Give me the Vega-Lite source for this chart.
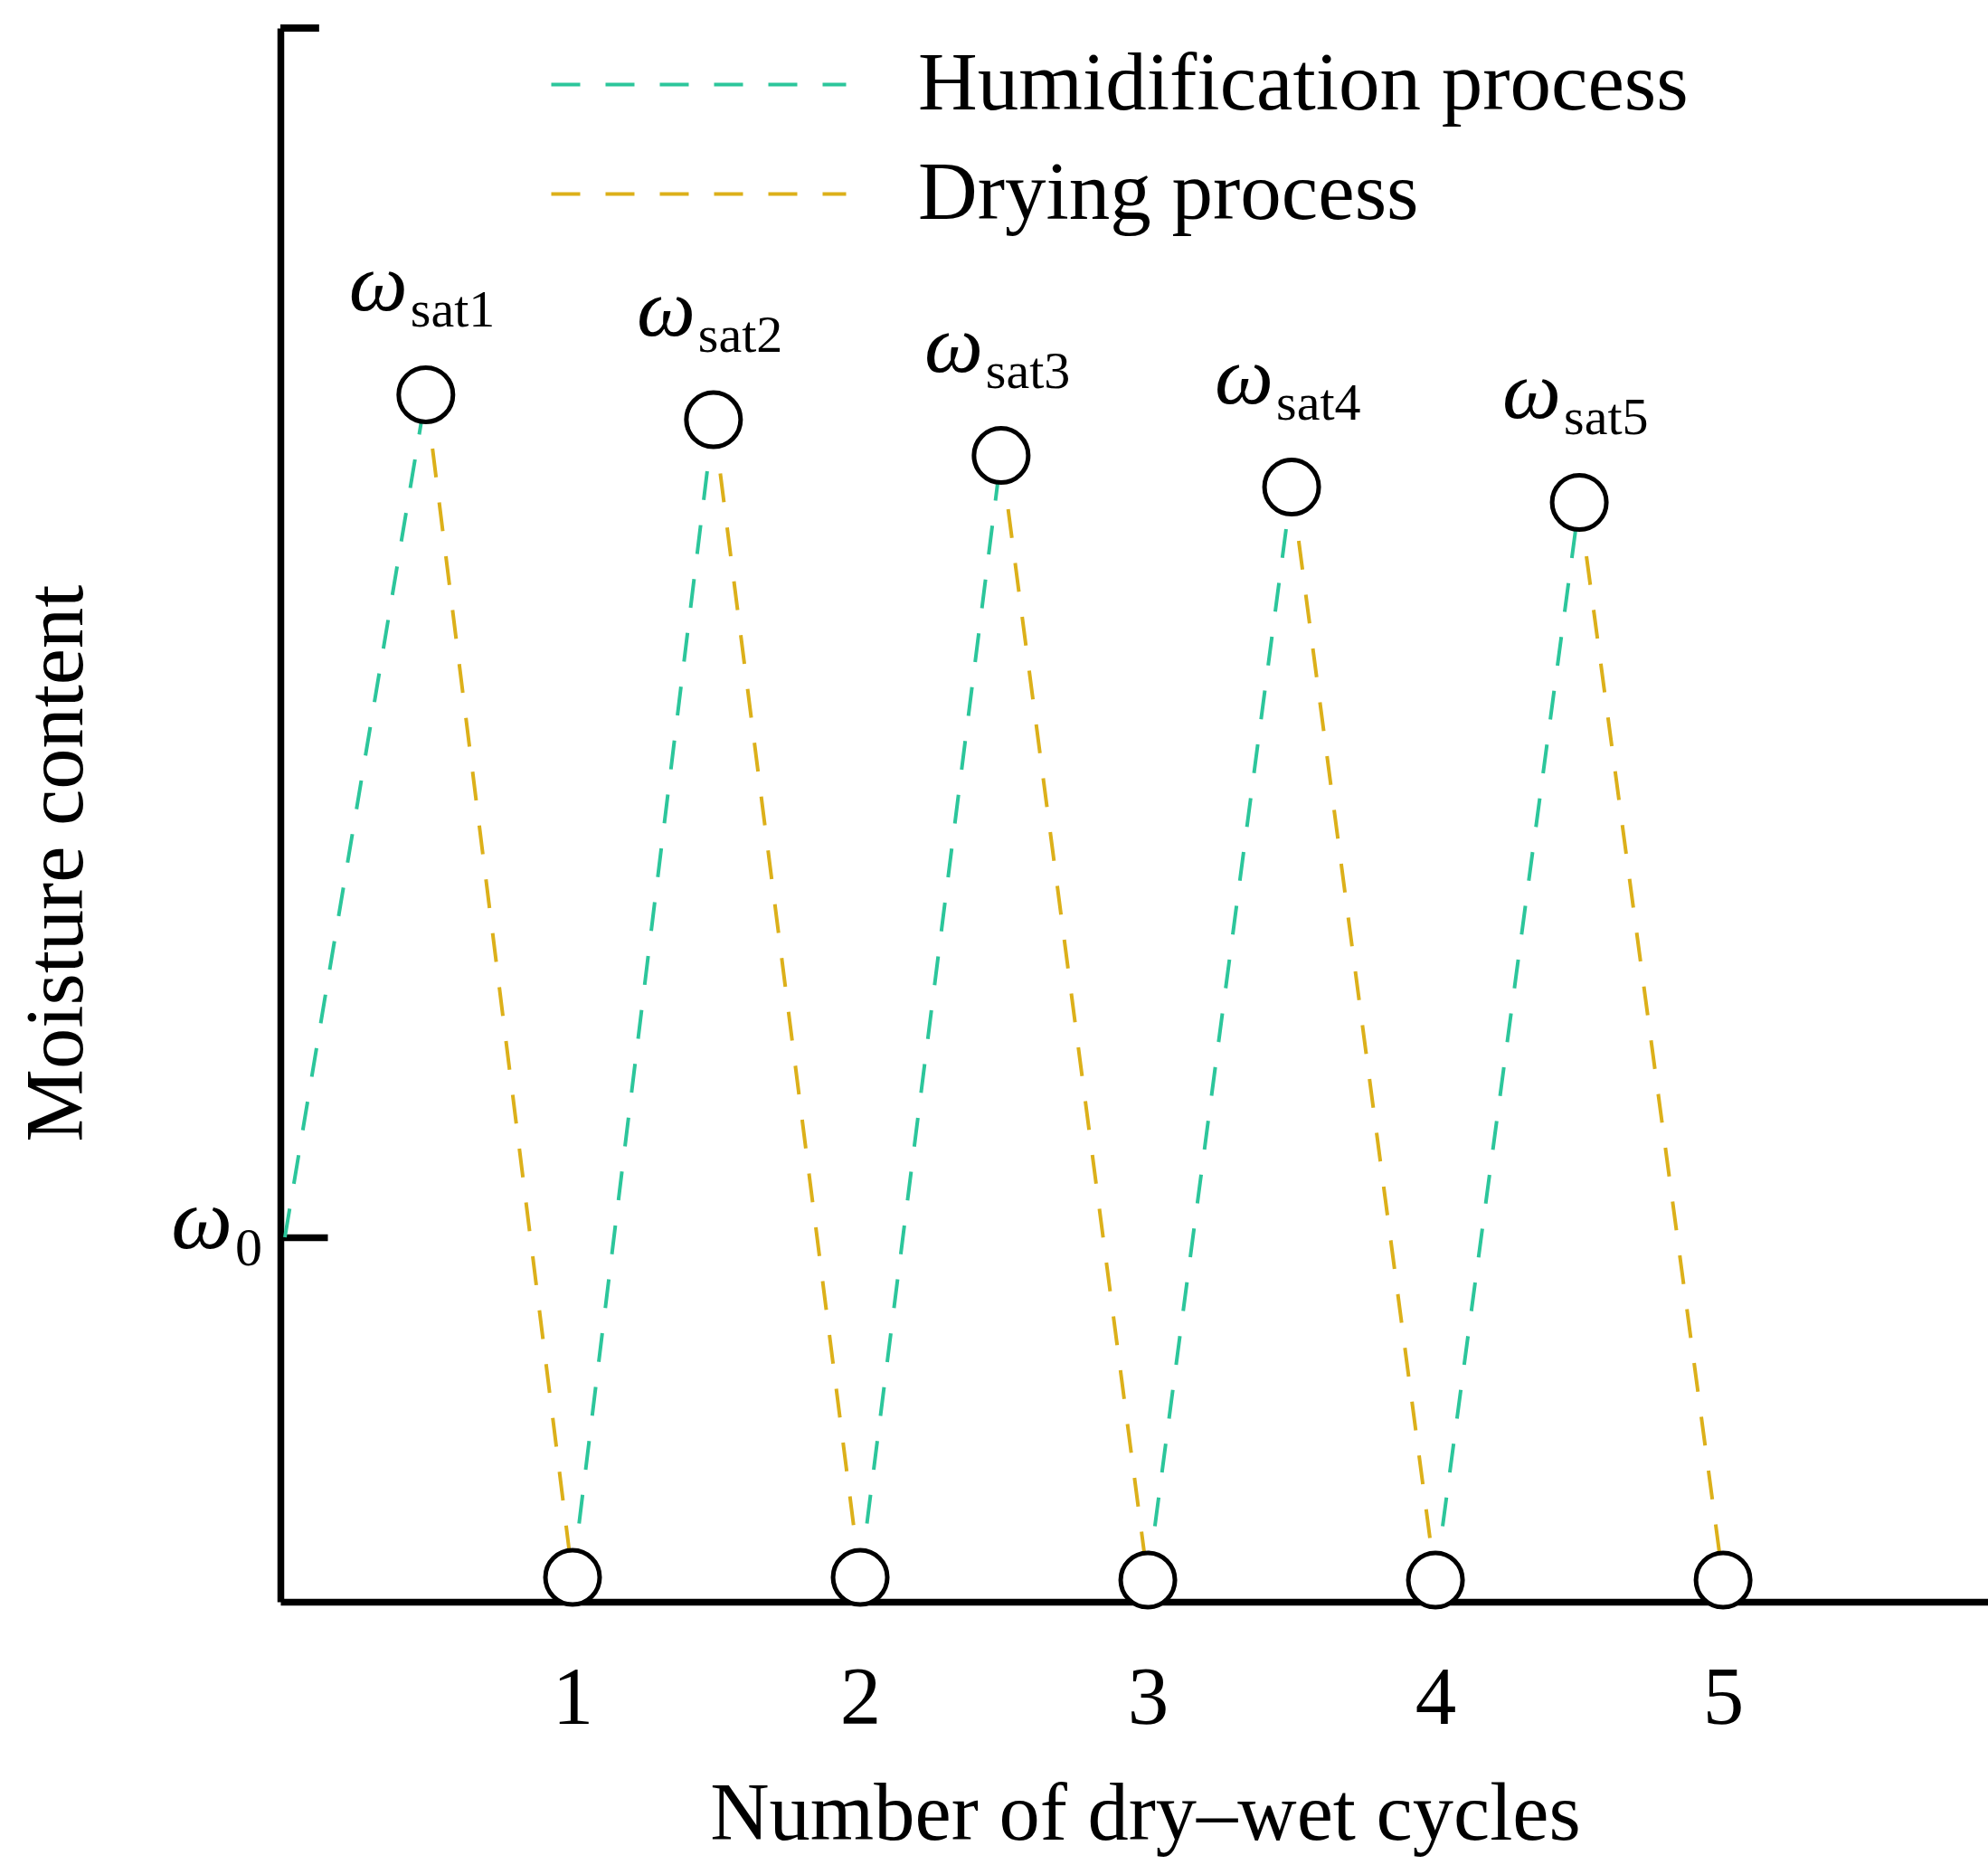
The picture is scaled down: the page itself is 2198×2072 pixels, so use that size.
{
  "$schema": "https://vega.github.io/schema/vega-lite/v6.json",
  "width": 1888,
  "height": 1740,
  "autosize": {"type": "none"},
  "padding": {"left": 310, "top": 31, "right": 0, "bottom": 301},
  "background": "white",
  "config": {"font": "Liberation Serif", "view": {"stroke": null}, "axis": {"grid": false}},
  "datasets": {
    "segments": [
      {"seg": 1, "process": "Humidification process", "cycle": 0, "moisture": 23.16},
      {"seg": 1, "process": "Humidification process", "cycle": 0.49, "moisture": 76.7},
      {"seg": 2, "process": "Drying process", "cycle": 0.49, "moisture": 76.7},
      {"seg": 2, "process": "Drying process", "cycle": 1, "moisture": 1.55},
      {"seg": 3, "process": "Humidification process", "cycle": 1, "moisture": 1.55},
      {"seg": 3, "process": "Humidification process", "cycle": 1.49, "moisture": 75.11},
      {"seg": 4, "process": "Drying process", "cycle": 1.49, "moisture": 75.11},
      {"seg": 4, "process": "Drying process", "cycle": 2, "moisture": 1.55},
      {"seg": 5, "process": "Humidification process", "cycle": 2, "moisture": 1.55},
      {"seg": 5, "process": "Humidification process", "cycle": 2.49, "moisture": 72.84},
      {"seg": 6, "process": "Drying process", "cycle": 2.49, "moisture": 72.84},
      {"seg": 6, "process": "Drying process", "cycle": 3, "moisture": 1.38},
      {"seg": 7, "process": "Humidification process", "cycle": 3, "moisture": 1.38},
      {"seg": 7, "process": "Humidification process", "cycle": 3.5, "moisture": 70.83},
      {"seg": 8, "process": "Drying process", "cycle": 3.5, "moisture": 70.83},
      {"seg": 8, "process": "Drying process", "cycle": 4, "moisture": 1.38},
      {"seg": 9, "process": "Humidification process", "cycle": 4, "moisture": 1.38},
      {"seg": 9, "process": "Humidification process", "cycle": 4.5, "moisture": 69.86},
      {"seg": 10, "process": "Drying process", "cycle": 4.5, "moisture": 69.86},
      {"seg": 10, "process": "Drying process", "cycle": 5, "moisture": 1.38}
    ],
    "points": [
      {"cycle": 0.49, "moisture": 76.7, "kind": "peak", "main": "ω", "sub": "sat1"},
      {"cycle": 1.49, "moisture": 75.11, "kind": "peak", "main": "ω", "sub": "sat2"},
      {"cycle": 2.49, "moisture": 72.84, "kind": "peak", "main": "ω", "sub": "sat3"},
      {"cycle": 3.5, "moisture": 70.83, "kind": "peak", "main": "ω", "sub": "sat4"},
      {"cycle": 4.5, "moisture": 69.86, "kind": "peak", "main": "ω", "sub": "sat5"},
      {"cycle": 1, "moisture": 1.55, "kind": "trough", "main": "", "sub": ""},
      {"cycle": 2, "moisture": 1.55, "kind": "trough", "main": "", "sub": ""},
      {"cycle": 3, "moisture": 1.38, "kind": "trough", "main": "", "sub": ""},
      {"cycle": 4, "moisture": 1.38, "kind": "trough", "main": "", "sub": ""},
      {"cycle": 5, "moisture": 1.38, "kind": "trough", "main": "", "sub": ""}
    ],
    "initial": [
      {"cycle": 0, "moisture": 23.16, "main": "ω", "sub": "0"}
    ],
    "cap": [
      {"cycle": -0.0157, "cycle2": 0.119, "moisture": 100}
    ]
  },
  "encoding": {
    "x": {
      "field": "cycle",
      "type": "quantitative",
      "scale": {"domain": [-0.0157, 5.921], "nice": false, "zero": false},
      "axis": {
        "values": [1, 2, 3, 4, 5],
        "format": "d",
        "title": "Number of dry–wet cycles",
        "ticks": false,
        "tickSize": 0,
        "labelFontSize": 91,
        "labelFont": "Liberation Serif",
        "labelColor": "black",
        "labelBaseline": "alphabetic",
        "labelPadding": 134,
        "labelFlush": false,
        "labelOverlap": false,
        "domainColor": "black",
        "domainWidth": 7.5,
        "titleFont": "Liberation Serif",
        "titleFontSize": 90.5,
        "titleFontWeight": "normal",
        "titleColor": "black",
        "titleX": 956,
        "titleY": 262,
        "titleBaseline": "alphabetic",
        "titleAlign": "center"
      }
    },
    "y": {
      "field": "moisture",
      "type": "quantitative",
      "scale": {"domain": [0, 100], "nice": false, "zero": false},
      "axis": {
        "values": [23.16],
        "labels": false,
        "tickSize": -52,
        "tickWidth": 7.5,
        "tickColor": "black",
        "domainColor": "black",
        "domainWidth": 7.5,
        "title": "Moisture content",
        "titleFont": "Liberation Serif",
        "titleFontSize": 90.5,
        "titleFontWeight": "normal",
        "titleColor": "black",
        "titleX": -220,
        "titleY": 923,
        "titleAngle": -90,
        "titleBaseline": "alphabetic",
        "titleAlign": "center"
      }
    }
  },
  "layer": [
    {
      "data": {"name": "segments"},
      "mark": {"type": "line", "strokeWidth": 4, "strokeDash": [32, 28]},
      "encoding": {
        "detail": {"field": "seg", "type": "nominal"},
        "color": {
          "field": "process",
          "type": "nominal",
          "scale": {"domain": ["Humidification process", "Drying process"], "range": ["#2cc69b", "#dcb01a"]},
          "legend": {
            "orient": "none",
            "legendX": 417,
            "legendY": 17,
            "title": null,
            "padding": 0,
            "symbolType": "M -7 0 L 7 0",
            "symbolSize": 2169,
            "symbolStrokeWidth": 4,
            "symbolDash": [32, 28],
            "symbolFillColor": "transparent",
            "labelFont": "Liberation Serif",
            "labelFontSize": 91,
            "labelColor": "black",
            "labelOffset": 197,
            "labelLimit": 2000,
            "rowPadding": 29
          }
        }
      }
    },
    {
      "data": {"name": "cap"},
      "mark": {"type": "rule", "strokeWidth": 8, "color": "black"},
      "encoding": {"x2": {"field": "cycle2"}}
    },
    {
      "data": {"name": "points"},
      "mark": {"type": "point", "shape": "circle", "filled": true, "fill": "white", "stroke": "black", "strokeWidth": 5, "size": 3600, "opacity": 1}
    },
    {
      "data": {"name": "points"},
      "transform": [{"filter": "datum.kind === 'peak'"}],
      "mark": {"type": "text", "fontSize": 92, "fontStyle": "italic", "font": "Liberation Serif", "align": "right", "baseline": "alphabetic", "dx": -20, "dy": -93, "color": "black"},
      "encoding": {"text": {"field": "main"}}
    },
    {
      "data": {"name": "points"},
      "transform": [{"filter": "datum.kind === 'peak'"}],
      "mark": {"type": "text", "fontSize": 58, "font": "Liberation Serif", "align": "left", "baseline": "alphabetic", "dx": -17, "dy": -75, "color": "black"},
      "encoding": {"text": {"field": "sub"}}
    },
    {
      "data": {"name": "initial"},
      "mark": {"type": "text", "fontSize": 96, "fontStyle": "italic", "font": "Liberation Serif", "align": "right", "baseline": "alphabetic", "dx": -58, "dy": 12, "color": "black"},
      "encoding": {"text": {"field": "main"}}
    },
    {
      "data": {"name": "initial"},
      "mark": {"type": "text", "fontSize": 60, "font": "Liberation Serif", "align": "left", "baseline": "alphabetic", "dx": -55, "dy": 31, "color": "black"},
      "encoding": {"text": {"field": "sub"}}
    }
  ]
}
